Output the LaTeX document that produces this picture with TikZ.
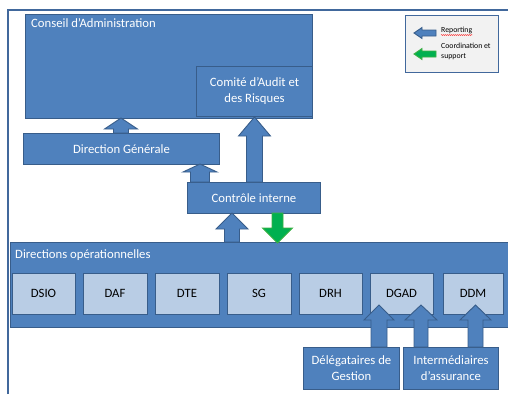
\documentclass[tikz,border=0pt]{standalone}
\usepackage{fontspec}
\setmainfont{Carlito}
\usetikzlibrary{decorations.pathmorphing}
\definecolor{boxblue}{HTML}{4F81BD}
\definecolor{boxline}{HTML}{385D8A}
\definecolor{lightbox}{HTML}{B9CDE5}
\definecolor{framecol}{HTML}{41689C}
\definecolor{greenfill}{HTML}{00B050}
\definecolor{greenline}{HTML}{3CB043}
\definecolor{legendfill}{HTML}{F2F2F2}
\tikzset{
  bluebox/.style={draw=boxline, fill=boxblue, line width=0.9pt, text=white, inner sep=0pt},
  lightcell/.style={draw=boxline, fill=lightbox, line width=0.9pt, text=black, inner sep=0pt},
  arrowst/.style={draw=boxline, fill=boxblue, line width=0.9pt, line join=miter},
  greenst/.style={draw=greenline, fill=greenfill, line width=0.9pt, line join=miter},
  lbl/.style={font=\fontsize{12.7}{16}\selectfont, align=center, inner sep=0pt},
  legtxt/.style={font=\fontsize{7.8}{10}\selectfont, align=left, inner sep=0pt, text=black, anchor=west}
}
% block arrow pointing up: #2 cx, #3 tip y, #4 head base y, #5 bottom y, #6 head half width, #7 shaft half width
\newcommand\blockarrow[7][arrowst]{%
  \draw[#1] ({#2-#7},#5) -- ({#2-#7},#4) -- ({#2-#6},#4) -- (#2,#3) -- ({#2+#6},#4) -- ({#2+#7},#4) -- ({#2+#7},#5) -- cycle;}
% block arrow pointing left: #2 cy, #3 tip x, #4 head base x, #5 end x, #6 head half, #7 shaft half
\newcommand\legarrow[7][arrowst]{%
  \draw[#1] (#5,{#2-#7}) -- (#4,{#2-#7}) -- (#4,{#2-#6}) -- (#3,#2) -- (#4,{#2+#6}) -- (#4,{#2+#7}) -- (#5,{#2+#7}) -- cycle;}
\begin{document}
\begin{tikzpicture}[x=1pt,y=-1pt]
\useasboundingbox (0,0) rectangle (508,394);
% outer frame
\draw[framecol, line width=1.8pt] (8,394) -- (8,10) -- (508,10);
% Conseil d'Administration
\node[bluebox, minimum width=287pt, minimum height=104pt, anchor=north west] (ca) at (25,14) {};
\node[lbl, text=white, anchor=north west] (catxt) at (31,18) {Conseil d’Administration};
\node[bluebox, lbl, minimum width=116pt, minimum height=50pt, anchor=north west] (cai) at (196,66) {Comité d’Audit et\\des Risques};
% Direction Generale
\node[bluebox, lbl, minimum width=196pt, minimum height=31pt, anchor=north west] (dg) at (23,133) {Direction Générale};
% Controle interne
\node[bluebox, lbl, minimum width=133pt, minimum height=31pt, anchor=north west] (ci) at (187,182) {Contrôle interne};
% Directions operationnelles
\node[bluebox, minimum width=502pt, minimum height=85pt, anchor=north west] (do) at (10,242) {};
\node[lbl, text=white, anchor=west] (dotxt) at (15,255) {Directions opérationnelles};
\foreach \nm/\xa/\xb in {DSIO/12/75, DAF/83/147, DTE/155/219, SG/227/291, DRH/299/362, DGAD/370/433, DDM/443/503}{
  \node[lightcell, lbl, minimum width={\xb-\xa}, minimum height=41pt] (\nm) at ({(\xa+\xb)/2},293.5) {\nm};
}
% bottom boxes
\node[bluebox, lbl, minimum width=96pt, minimum height=42pt, anchor=north west] (deleg) at (303,347) {Délégataires de\\Gestion};
\node[bluebox, lbl, minimum width=95pt, minimum height=42pt, anchor=north west] (inter) at (403,347) {Intermédiaires\\d’assurance};
% arrows
\blockarrow{121}{118}{129}{133}{16.5}{7.5}
\blockarrow{254.5}{117}{136}{182}{16}{8}
\blockarrow{200}{164}{172}{182}{17}{9.5}
\blockarrow{232}{213}{229}{242}{16}{7.5}
\blockarrow[greenst]{277.5}{243}{228}{213}{15}{5.5}
\blockarrow{379}{305}{320}{347}{15}{8}
\blockarrow{421}{305}{320}{347}{16}{7}
\blockarrow{475.5}{305}{320}{347}{15.5}{7.5}
% legend
\node[draw=framecol, fill=legendfill, line width=1pt, minimum width=93pt, minimum height=57pt, anchor=north west] (leg) at (405,15) {};
\legarrow{33}{414}{422}{436}{5.5}{3}
\legarrow[greenst]{54}{414}{422}{436}{5.5}{3}
\node[legtxt] (rep) at (441,30.5) {Reporting};
\draw[red, line width=0.3pt, decorate, decoration={snake, amplitude=0.5pt, segment length=2pt}] ([yshift=-1pt]rep.south west) -- ([yshift=-1pt]rep.south east);
\node[legtxt] (coord) at (441,51) {Coordination et\\support};
\end{tikzpicture}
\end{document}
